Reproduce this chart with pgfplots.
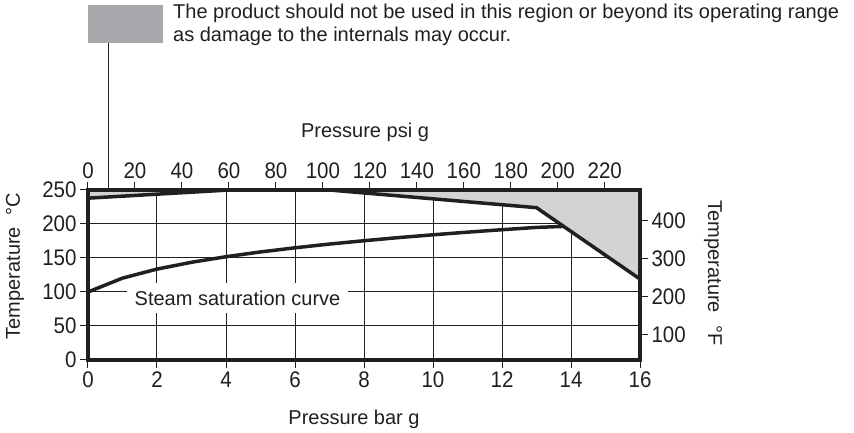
\documentclass[border=0pt]{standalone}
\usepackage{fontspec}
\setmainfont{Liberation Sans}
\usepackage{graphicx}
\usepackage{pgfplots}
\pgfplotsset{compat=1.18}
\definecolor{fillgray}{HTML}{D1D3D4}
\definecolor{boxgray}{HTML}{A7A9AC}
\definecolor{ink}{HTML}{231F20}
\newcommand{\txt}{\fontsize{20}{24}\selectfont}
\newcommand{\tck}{\fontsize{20.5}{24}\selectfont}
\pgfplotsset{
  tl/.style={
    xticklabel={\scalebox{1}[1.1]{\pgfmathprintnumber{\tick}}},
    yticklabel={\scalebox{1}[1.1]{\pgfmathprintnumber{\tick}}},
  }
}
\begin{document}
\begin{tikzpicture}[x=1pt,y=1pt]
\useasboundingbox (-88,-73) rectangle (766,360);
\begin{axis}[
  at={(0,0)}, anchor=south west,
  scale only axis, width=552pt, height=170pt,
  xmin=0, xmax=16, ymin=0, ymax=250,
  xtick={0,2,...,16}, ytick={0,50,...,250},
  xtick pos=left, ytick pos=left,
  grid=major, major grid style={ink, line width=1pt},
  axis line style={draw=none},
  tick align=outside, major tick length=8pt,
  tick style={ink, line width=1pt},
  tick label style={font=\tck, text=ink},
  /pgf/number format/assume math mode=true,
  tl,
]
\addplot[fill=fillgray, draw=none] coordinates {(0,238) (4.1,250) (7,250) (13,224) (16,119) (16,250) (0,250)};
\node[fill=white, inner xsep=8pt, inner ysep=7.5pt, font=\txt, text=ink] at (axis cs:4.333,91) {Steam saturation curve};
\addplot[ink, line width=3.5pt] coordinates {(0,100) (1,120.4) (2,133.7) (3,143.7) (4,151.9) (5,158.9) (6,165) (7,170.5) (8,175.4) (9,180) (10,184.1) (11,188) (12,191.6) (13,195) (13.8,196.5)};
\addplot[ink, line width=3.5pt] coordinates {(0,238) (4.1,250) (7,250) (13,224) (16,119)};
\end{axis}
\begin{axis}[
  at={(0,0)}, anchor=south west,
  scale only axis, width=552pt, height=170pt,
  xmin=0, xmax=235, ymin=32, ymax=482,
  xtick={0,20,...,220}, ytick={100,200,300,400},
  xtick pos=right, ytick pos=right,
  axis line style={draw=none},
  tick align=outside, major tick length=8pt,
  tick style={ink, line width=1pt},
  tick label style={font=\tck, text=ink},
  /pgf/number format/assume math mode=true,
  tl,
]
\addplot[draw=none] coordinates {(0,32)};
\end{axis}
\draw[ink, line width=4pt] (0,0) rectangle (552,170);
% legend
\fill[boxgray] (0,317) rectangle (75,355);
\draw[ink, line width=1pt] (20.3,317) -- (20.3,170);
\node[anchor=base west, inner sep=0pt, font=\txt, text=ink] at (85,341.7) {The product should not be used in this region or beyond its operating range};
\node[anchor=base west, inner sep=0pt, font=\txt, text=ink] at (85,318.3) {as damage to the internals may occur.};
% axis titles
\node[anchor=base, inner sep=0pt, font=\txt, text=ink] at (277,222.7) {Pressure psi g};
\node[anchor=base, inner sep=0pt, font=\txt, text=ink] at (266,-65) {Pressure bar g};
\node[rotate=90, inner sep=0pt, font=\txt, text=ink] at (-73,94) {Temperature\hspace{0.6em}°C};
\node[rotate=-90, inner sep=0pt, font=\txt, text=ink] at (625,87) {Temperature\hspace{0.6em}°F};
\end{tikzpicture}
\end{document}
